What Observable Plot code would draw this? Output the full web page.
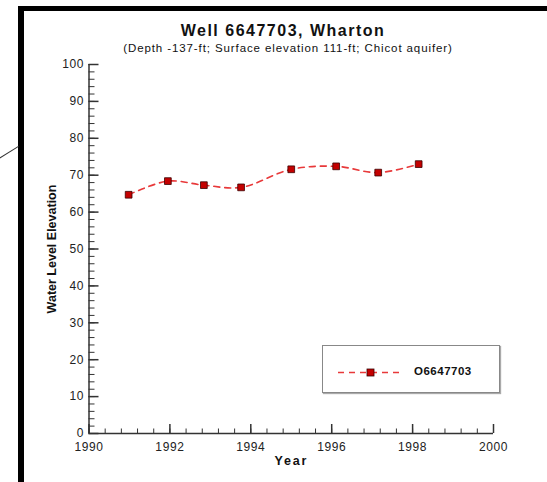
<!DOCTYPE html>
<html>
<head>
<meta charset="utf-8">
<script src="https://cdn.jsdelivr.net/npm/d3@7"></script>
<script src="https://cdn.jsdelivr.net/npm/@observablehq/plot@0.6"></script>
<style>
  html, body { margin: 0; padding: 0; background: #fff; overflow: hidden; width: 547px; height: 482px; }
  #wrap { position: relative; width: 547px; height: 482px; overflow: hidden; font-family: "Liberation Sans", Arial, sans-serif; color: #111; }
  #frame { position: absolute; left: 18px; top: 6px; width: 529px; height: 476px; border-top: 5px solid #000; border-left: 6px solid #000; box-sizing: border-box; }
  #diag { position: absolute; left: -1px; top: 158px; width: 23px; height: 1px; background: #333; transform: rotate(-32deg); transform-origin: left center; }
  #title { position: absolute; left: 0; width: 566px; top: 22px; text-align: center; font-weight: bold; font-size: 16px; letter-spacing: 1.5px; }
  #subtitle { position: absolute; left: 0; width: 576px; top: 42px; text-align: center; font-size: 11.5px; letter-spacing: 0.9px; }
  #chart { position: absolute; left: 0; top: 0; width: 547px; height: 482px; overflow: hidden; }
  #chart svg { font-family: "Liberation Sans", Arial, sans-serif; display: block; }
  #legend { position: absolute; left: 322px; top: 345px; width: 176px; height: 46px; border: 1px solid #888; box-shadow: 1px 1px 1px #aaa; background: #fff; }
  #legend svg { position: absolute; left: 0; top: 0; }
  #legend span { position: absolute; left: 91px; top: 19px; font-weight: bold; font-size: 11.5px; letter-spacing: 0.5px; }
</style>
</head>
<body>
<div id="wrap">
  <div id="frame"></div>
  <div id="diag"></div>
  <div id="chart"></div>
  <div id="title"></div>
  <div id="subtitle"></div>
  <div id="legend"></div>
</div>
<script>
// ---- data ----
const titleText = "Well 6647703, Wharton";
const subtitleText = "(Depth -137-ft; Surface elevation 111-ft; Chicot aquifer)";
const seriesName = "O6647703";
const years = [1990.98, 1991.95, 1992.84, 1993.76, 1995.0, 1996.11, 1997.15, 1998.15];
const levels = [64.7, 68.4, 67.3, 66.7, 71.6, 72.4, 70.7, 73.0];
const xTickValues = [1990, 1992, 1994, 1996, 1998, 2000];
const xTickLabels = ["1990", "1992", "1994", "1996", "1998", "2000"];
const yTickValues = [0, 10, 20, 30, 40, 50, 60, 70, 80, 90, 100];
const xDomain = [1990, 2000];
const yDomain = [0, 100];

const lineColor = "#e8393a";
const markerFill = "#c40000";
const markerStroke = "#3a0000";

const data = years.map((y, i) => ({year: y, level: levels[i]}));
const xMinor = d3.range(0, 26).map(i => xDomain[0] + i * 0.4);
const yMinor = d3.range(0, 51).map(i => yDomain[0] + i * 2);

document.getElementById("title").textContent = titleText;
document.getElementById("subtitle").textContent = subtitleText;

const chart = Plot.plot({
  width: 547,
  height: 482,
  marginLeft: 88.5,
  marginRight: 54,
  marginTop: 64,
  marginBottom: 49,
  style: {fontSize: "12px", color: "#222", background: "transparent"},
  x: {domain: xDomain},
  y: {domain: yDomain},
  marks: [
    Plot.axisX(xMinor, {tickSize: -4.5, tickFormat: () => "", label: null, stroke: "#333"}),
    Plot.axisX(xTickValues, {tickSize: -9, tickFormat: () => "", label: null, stroke: "#333", strokeWidth: 1.5}),
    Plot.axisX(xTickValues, {tickSize: 0, tickPadding: 9, tickFormat: (d, i) => xTickLabels[i], label: "Year", labelArrow: "none", labelAnchor: "center", labelOffset: 31, fill: "#222"}),
    Plot.axisY(yMinor, {tickSize: -6, tickFormat: () => "", label: null, stroke: "#333"}),
    Plot.axisY(yTickValues, {tickSize: -10, tickFormat: () => "", label: null, stroke: "#333", strokeWidth: 1.5}),
    Plot.axisY(yTickValues, {tickSize: 0, tickPadding: 5, label: "Water Level Elevation", labelArrow: "none", labelAnchor: "center", labelOffset: 42, fill: "#222"}),
    Plot.ruleX([xDomain[0]], {stroke: "#333", strokeWidth: 1.5}),
    Plot.ruleY([yDomain[0]], {stroke: "#333", strokeWidth: 1.5}),
    Plot.line(data, {x: "year", y: "level", stroke: lineColor, strokeWidth: 1.6, strokeDasharray: "6,5", curve: "catmull-rom"}),
    Plot.dot(data, {x: "year", y: "level", symbol: "square", r: 3.8, fill: markerFill, stroke: markerStroke, strokeWidth: 0.8})
  ]
});
document.getElementById("chart").appendChild(chart);
chart.querySelectorAll('[aria-label$="tick label"] text').forEach(el => {
  el.style.letterSpacing = "0.6px";
});
chart.querySelectorAll('[aria-label$="axis label"] text, [aria-label$="axis label"]').forEach(el => {
  el.style.fontWeight = "bold";
  el.style.fontSize = "12.5px";
  el.style.fill = "#111";
});
chart.querySelectorAll('[aria-label="x-axis label"] text').forEach(el => {
  el.style.letterSpacing = "1.8px";
});

// legend
const leg = document.getElementById("legend");
const ns = "http://www.w3.org/2000/svg";
const ls = document.createElementNS(ns, "svg");
ls.setAttribute("width", 90); ls.setAttribute("height", 46);
const ln = document.createElementNS(ns, "line");
ln.setAttribute("x1", 15); ln.setAttribute("x2", 80); ln.setAttribute("y1", 26.5); ln.setAttribute("y2", 26.5);
ln.setAttribute("stroke", lineColor); ln.setAttribute("stroke-width", 1.6); ln.setAttribute("stroke-dasharray", "6,5");
ls.appendChild(ln);
const rc = document.createElementNS(ns, "rect");
rc.setAttribute("x", 44); rc.setAttribute("y", 23); rc.setAttribute("width", 7); rc.setAttribute("height", 7);
rc.setAttribute("fill", markerFill); rc.setAttribute("stroke", markerStroke); rc.setAttribute("stroke-width", 0.8);
ls.appendChild(rc);
leg.appendChild(ls);
const sp = document.createElement("span");
sp.textContent = seriesName;
leg.appendChild(sp);
</script>
</body>
</html>
